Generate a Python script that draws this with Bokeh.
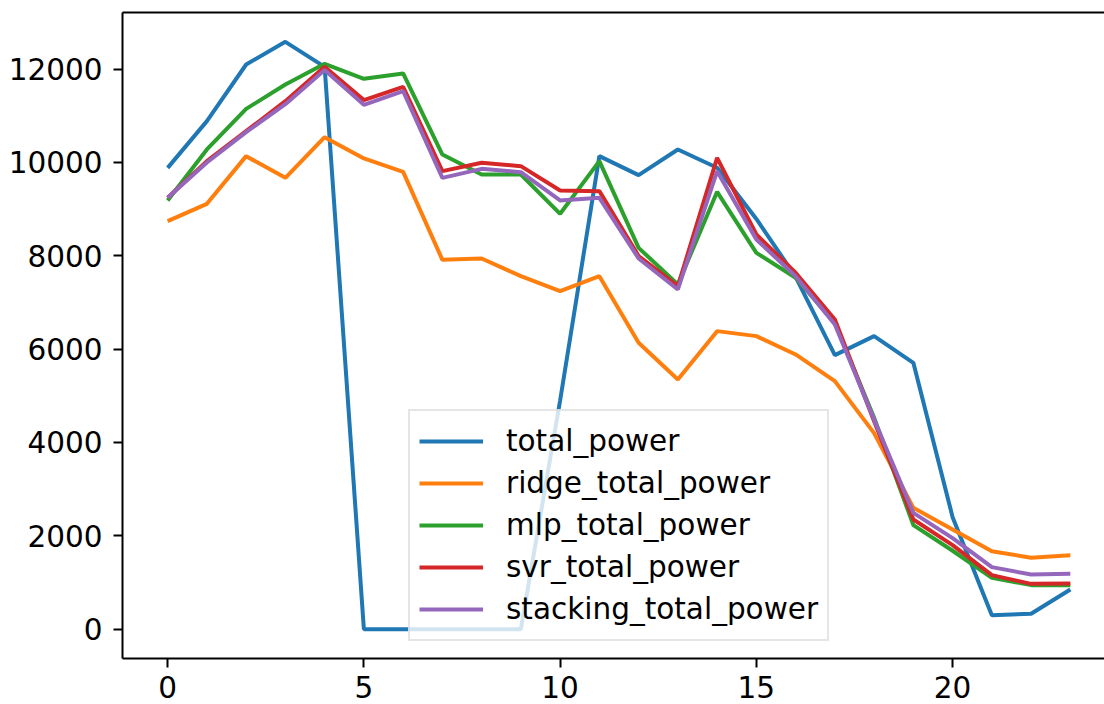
from bokeh.plotting import figure
from bokeh.models import Range1d, FixedTicker, LinearAxis, Legend, LegendItem
from bokeh.embed import file_html
from bokeh.resources import INLINE

hours = list(range(24))
total_power = [9885, 10886, 12100, 12585, 12050, 0, 0, 0, 0, 0, 4900, 10136,
               9729, 10279, 9886, 8790, 7550, 5871, 6279, 5707, 2400, 300, 329, 850]
ridge_total_power = [8743, 9114, 10136, 9671, 10543, 10086, 9800, 7914, 7943, 7564, 7243, 7564,
                     6136, 5350, 6386, 6279, 5886, 5314, 4200, 2600, 2136, 1671, 1529, 1586]
mlp_total_power = [9186, 10279, 11149, 11671, 12114, 11793, 11907, 10171, 9743, 9743, 8900, 10029,
                   8171, 7386, 9371, 8064, 7529, 6564, 4529, 2229, 1680, 1100, 943, 940]
svr_total_power = [9243, 10029, 10671, 11314, 12050, 11336, 11621, 9814, 9993, 9921, 9400, 9386,
                   7993, 7350, 10100, 8457, 7636, 6636, 4457, 2350, 1800, 1157, 971, 979]
stacking_total_power = [9243, 10000, 10650, 11250, 11980, 11236, 11529, 9671, 9864, 9793, 9186, 9243,
                        7943, 7279, 9814, 8350, 7564, 6529, 4490, 2493, 1950, 1329, 1171, 1186]

series_names = ["total_power", "ridge_total_power", "mlp_total_power",
                "svr_total_power", "stacking_total_power"]
series_values = [total_power, ridge_total_power, mlp_total_power,
                 svr_total_power, stacking_total_power]
colors = ["#1f77b4", "#ff7f0e", "#2ca02c", "#d62728", "#9467bd"]

x_ticks = [0, 5, 10, 15, 20]
y_ticks = [0, 2000, 4000, 6000, 8000, 10000, 12000]

FONT = "DejaVu Sans"

p = figure(frame_width=982, frame_height=646,
           min_border_left=122, min_border_right=0, min_border_top=12, min_border_bottom=46,
           x_range=Range1d(-1.15, 23.87), y_range=Range1d(-629, 13214),
           output_backend="svg", toolbar_location=None)
p.outline_line_color = None
p.xgrid.visible = False
p.ygrid.visible = False
p.background_fill_color = "white"
p.border_fill_color = "white"

for ax, ticks in ((p.xaxis[0], x_ticks), (p.yaxis[0], y_ticks)):
    ax.ticker = FixedTicker(ticks=ticks)
    ax.axis_line_color = "black"
    ax.axis_line_width = 2
    ax.major_tick_line_color = "black"
    ax.major_tick_line_width = 2
    ax.major_tick_in = 0
    ax.major_tick_out = 9
    ax.minor_tick_in = 0
    ax.minor_tick_out = 0
    ax.major_label_text_font = FONT
    ax.major_label_text_font_size = "29.5px"
    ax.major_label_text_color = "black"
p.xaxis[0].major_label_standoff = 8
p.yaxis[0].major_label_standoff = 11

top_axis = LinearAxis(ticker=FixedTicker(ticks=[]), axis_line_color="black", axis_line_width=2,
                      major_tick_out=0, major_tick_in=0, minor_tick_out=0, minor_tick_in=0,
                      major_label_text_font_size="0px")
p.add_layout(top_axis, "above")

items = []
for name, vals, col in zip(series_names, series_values, colors):
    r = p.line(hours, vals, line_color=col, line_width=4)
    items.append(LegendItem(label=name, renderers=[r]))

legend = Legend(items=items, location=(286, 17), orientation="vertical",
                label_text_font=FONT, label_text_font_size="29.5px", label_text_color="black",
                glyph_width=64, glyph_height=42, label_height=42, label_standoff=23,
                spacing=0, padding=9, margin=0,
                border_line_color="#cccccc", border_line_width=2,
                background_fill_color="white", background_fill_alpha=0.8)
p.add_layout(legend, "center")

open("out.html", "w").write(file_html(p, INLINE))
